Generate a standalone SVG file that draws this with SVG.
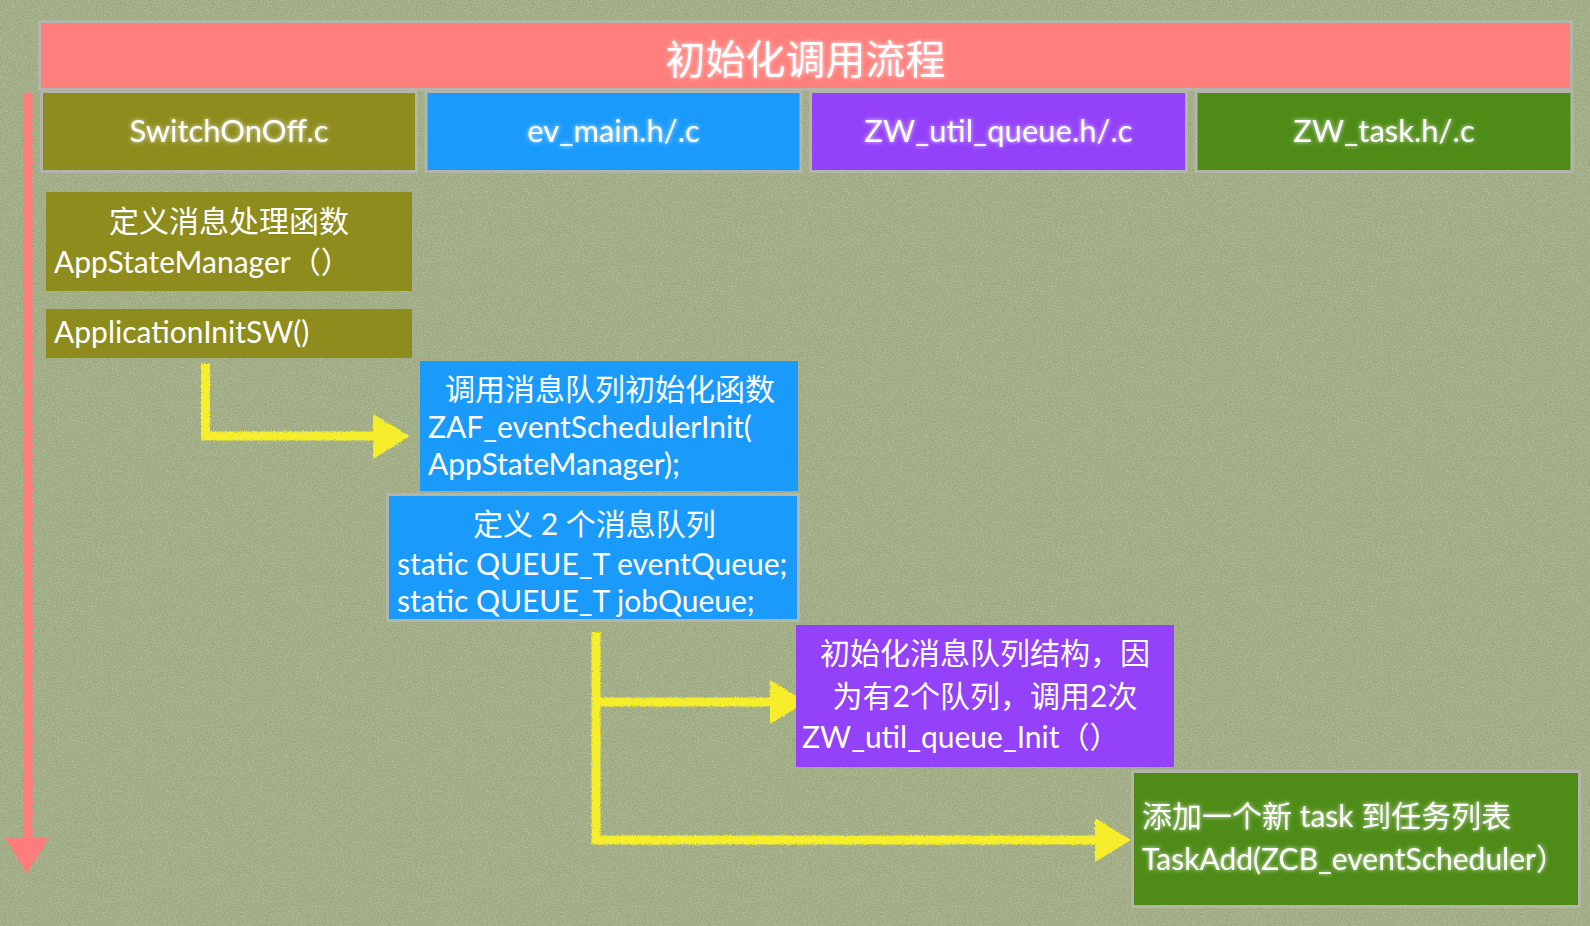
<svg xmlns="http://www.w3.org/2000/svg" width="1590" height="926" viewBox="0 0 1590 926">
<defs>
<style>
.t{font-family:Lato,"Noto Sans CJK SC",sans-serif;fill:#ffffff}
.hd{font-size:31px;text-anchor:middle}
.zh{font-size:30px}
.en{font-size:30px}
.c{text-anchor:middle}
.hbox{stroke:#b3b5ab;stroke-width:3}
.yl{fill:none;stroke:#f6ee2c;stroke-width:9;stroke-linecap:butt;stroke-linejoin:miter}
.yh{fill:#f6ee2c}
</style>
<filter id="tex" x="0" y="0" width="100%" height="100%">
<feTurbulence type="fractalNoise" baseFrequency="0.8" numOctaves="2" seed="3" result="n"/>
<feColorMatrix in="n" type="matrix" values="0 0 0 0 1  0 0 0 0 1  0 0 0 0 0.9  0 0 0 1.2 -0.45"/>
</filter>
<filter id="glow" x="-10%" y="-30%" width="120%" height="160%">
<feGaussianBlur in="SourceAlpha" stdDeviation="2.2" result="b"/>
<feFlood flood-color="#ffffff" flood-opacity="0.8"/>
<feComposite operator="in" in2="b" result="g"/>
<feMerge><feMergeNode in="g"/><feMergeNode in="SourceGraphic"/></feMerge>
</filter>
<filter id="chalk" x="-5%" y="-5%" width="110%" height="110%">
<feTurbulence type="fractalNoise" baseFrequency="0.9" numOctaves="2" seed="7" result="n"/>
<feDisplacementMap in="SourceGraphic" in2="n" scale="3.5" xChannelSelector="R" yChannelSelector="G"/>
</filter>
<clipPath id="clip4"><rect x="389" y="496" width="408" height="123"/></clipPath>
</defs>

<rect id="background" x="0" y="0" width="1590" height="926" fill="#9ca980"/>
<rect x="0" y="0" width="1590" height="926" filter="url(#tex)" opacity="0.45"/>

<g id="title">
<rect x="39.5" y="21.5" width="1532" height="68" fill="#ff7f7c" class="hbox"/>
<text class="t c" x="805.5" y="74" font-size="40" filter="url(#glow)">初始化调用流程</text>
</g>

<g id="header-switchonoff">
<rect x="41.5" y="91.5" width="375" height="80" fill="#8f8c1e" class="hbox"/>
<text class="t hd" x="229" y="142" filter="url(#glow)">SwitchOnOff.c</text>
</g>
<g id="header-ev-main">
<rect x="426" y="91.5" width="375" height="80" fill="#1a9bfc" class="hbox"/>
<text class="t hd" x="613.5" y="142" filter="url(#glow)">ev_main.h/.c</text>
</g>
<g id="header-zw-util-queue">
<rect x="810.5" y="91.5" width="376" height="80" fill="#9441fa" class="hbox"/>
<text class="t hd" x="998.5" y="142" filter="url(#glow)">ZW_util_queue.h/.c</text>
</g>
<g id="header-zw-task">
<rect x="1196" y="91.5" width="376" height="80" fill="#4e8c17" class="hbox"/>
<text class="t hd" x="1384" y="142" filter="url(#glow)">ZW_task.h/.c</text>
</g>

<g id="connectors">
<g id="timeline" fill="#ff7b7b">
<rect x="23.5" y="93" width="9" height="752" filter="url(#chalk)"/>
<polygon points="5,838 49,838 27,873" filter="url(#chalk)"/>
</g>
<g id="arrow-init" filter="url(#chalk)">
<polyline class="yl" points="205.5,364 205.5,436 376,436"/>
<polygon class="yh" points="373,414 410,436 373,459"/>
</g>
<g id="arrow-queue" filter="url(#chalk)">
<polyline class="yl" points="596,632 596,840 1098,840"/>
<polyline class="yl" points="596,702 774,702"/>
<polygon class="yh" points="770,680 806,702 770,724"/>
<polygon class="yh" points="1095,818 1131,840 1095,862"/>
</g>
</g>

<g id="node-app-state-manager">
<rect x="46" y="192" width="366" height="99" fill="#8f8c1e"/>
<text class="t zh c" x="229" y="232">定义消息处理函数</text>
<text class="t en" x="54" y="273">AppStateManager（）</text>
</g>

<g id="node-application-init">
<rect x="46" y="309" width="366" height="49" fill="#8f8c1e"/>
<text class="t en" x="54" y="343">ApplicationInitSW()</text>
</g>

<g id="node-event-scheduler-init">
<rect x="420" y="361" width="378" height="130" fill="#1a9bfc"/>
<text class="t zh c" x="610" y="400">调用消息队列初始化函数</text>
<text class="t en" x="428" y="438">ZAF_eventSchedulerInit(</text>
<text class="t en" x="428" y="475">AppStateManager);</text>
</g>

<g id="node-queues">
<rect x="387.5" y="494.5" width="411" height="126" fill="#1a9bfc" class="hbox"/>
<g clip-path="url(#clip4)">
<text class="t zh c" x="594.5" y="535">定义 2 个消息队列</text>
<text class="t en" x="397" y="575">static QUEUE_T eventQueue;</text>
<text class="t en" x="397" y="612">static QUEUE_T jobQueue;</text>
</g>
</g>

<g id="node-queue-init">
<rect x="796" y="625" width="378" height="142" fill="#9441fa"/>
<text class="t zh c" x="985" y="664">初始化消息队列结构，因</text>
<text class="t zh c" x="985" y="707">为有2个队列，调用2次</text>
<text class="t en" x="802" y="748">ZW_util_queue_Init（）</text>
</g>

<g id="node-task-add">
<rect x="1132.5" y="771.5" width="447" height="135" fill="#4e8c17" class="hbox"/>
<text class="t zh" x="1142" y="827" filter="url(#glow)">添加一个新 task 到任务列表</text>
<text class="t en" x="1142" y="870" filter="url(#glow)">TaskAdd(ZCB_eventScheduler）</text>
</g>
</svg>
